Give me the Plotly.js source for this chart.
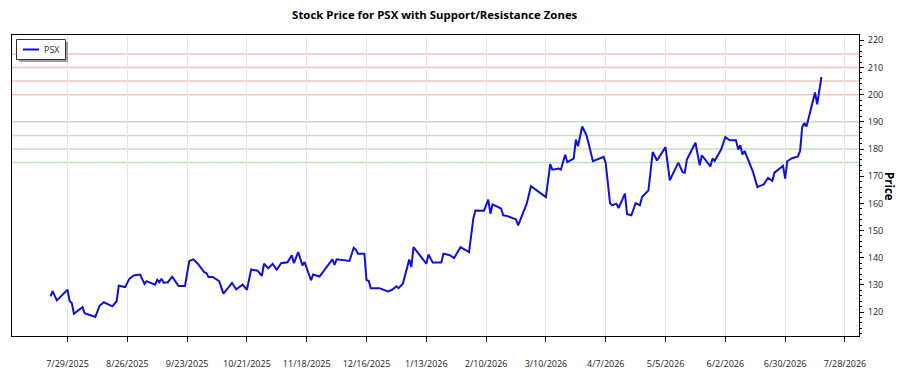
<!DOCTYPE html>
<html>
<head>
<meta charset="utf-8">
<script src="https://cdn.plot.ly/plotly-3.0.1.min.js"></script>
<style>html,body{margin:0;padding:0;background:#fff;}#chart{width:900px;height:375px;}</style>
</head>
<body>
<div id="chart"></div>
<script>
const dates = ['2025-07-21','2025-07-22','2025-07-24','2025-07-29','2025-07-30','2025-07-31','2025-08-01','2025-08-05','2025-08-06','2025-08-11','2025-08-13','2025-08-15','2025-08-19','2025-08-21','2025-08-22','2025-08-25','2025-08-27','2025-08-29','2025-09-01','2025-09-03','2025-09-04','2025-09-08','2025-09-09','2025-09-10','2025-09-11','2025-09-12','2025-09-14','2025-09-16','2025-09-19','2025-09-22','2025-09-24','2025-09-26','2025-09-28','2025-10-01','2025-10-02','2025-10-03','2025-10-05','2025-10-08','2025-10-10','2025-10-14','2025-10-16','2025-10-19','2025-10-21','2025-10-23','2025-10-26','2025-10-28','2025-10-29','2025-10-31','2025-11-02','2025-11-04','2025-11-06','2025-11-09','2025-11-11','2025-11-12','2025-11-14','2025-11-16','2025-11-17','2025-11-20','2025-11-21','2025-11-24','2025-11-30','2025-12-01','2025-12-02','2025-12-08','2025-12-10','2025-12-11','2025-12-12','2025-12-15','2025-12-16','2025-12-17','2025-12-18','2025-12-22','2025-12-26','2025-12-28','2025-12-30','2025-12-31','2026-01-02','2026-01-05','2026-01-06','2026-01-07','2026-01-13','2026-01-14','2026-01-16','2026-01-20','2026-01-21','2026-01-24','2026-01-26','2026-01-29','2026-02-02','2026-02-04','2026-02-05','2026-02-09','2026-02-11','2026-02-12','2026-02-13','2026-02-17','2026-02-18','2026-02-20','2026-02-24','2026-02-25','2026-03-01','2026-03-03','2026-03-10','2026-03-12','2026-03-13','2026-03-16','2026-03-17','2026-03-19','2026-03-20','2026-03-23','2026-03-24','2026-03-25','2026-03-27','2026-03-29','2026-03-30','2026-04-01','2026-04-06','2026-04-07','2026-04-09','2026-04-10','2026-04-12','2026-04-13','2026-04-16','2026-04-17','2026-04-19','2026-04-21','2026-04-23','2026-04-24','2026-04-27','2026-04-29','2026-05-01','2026-05-04','2026-05-05','2026-05-07','2026-05-09','2026-05-11','2026-05-13','2026-05-14','2026-05-15','2026-05-17','2026-05-19','2026-05-21','2026-05-22','2026-05-26','2026-05-27','2026-05-28','2026-05-31','2026-06-02','2026-06-04','2026-06-07','2026-06-08','2026-06-09','2026-06-10','2026-06-11','2026-06-14','2026-06-15','2026-06-17','2026-06-20','2026-06-22','2026-06-24','2026-06-25','2026-06-29','2026-06-30','2026-07-01','2026-07-03','2026-07-06','2026-07-07','2026-07-08','2026-07-09','2026-07-10','2026-07-14','2026-07-15','2026-07-17'];

const prices = [125.8,127.7,124.3,128.2,124.0,123.3,119.4,121.8,119.6,118.2,122.3,123.6,122.1,124.0,129.7,129.2,132.3,133.5,133.8,130.4,131.4,130.1,131.9,131.0,132.3,130.8,131.0,133.0,129.6,129.6,138.8,139.4,137.8,134.7,134.4,132.9,132.9,131.4,126.8,130.7,128.4,130.1,128.2,135.7,135.2,133.3,137.8,136.1,137.8,135.6,138.0,138.3,140.9,138.0,142.1,137.2,138.4,131.7,133.8,133.1,139.4,137.4,139.4,138.8,143.7,143.0,141.5,141.5,131.7,131.5,128.8,128.8,127.6,128.2,129.5,128.8,130.4,139.3,136.6,143.9,137.8,141.2,138.2,138.2,141.5,140.9,139.9,143.9,142.1,154.4,157.4,157.3,161.4,156.2,159.6,158.1,155.6,155.3,154.1,151.9,159.9,166.3,162.3,174.4,172.4,172.8,172.4,177.9,175.2,176.5,183.5,181.0,188.3,185.0,182.0,175.5,177.1,174.8,160.1,159.3,159.9,158.3,163.6,156.0,155.6,160.1,159.3,162.3,164.8,178.9,175.8,179.5,180.7,168.5,171.8,175.0,171.5,171.3,176.1,179.5,182.3,174.0,177.7,173.6,176.5,175.6,179.8,184.4,183.2,183.2,179.8,181.4,178.0,179.3,173.4,171.5,166.0,167.0,169.4,168.3,171.3,173.8,169.1,175.5,176.5,177.3,179.3,188.1,189.6,188.3,200.8,196.4,206.5];

const seriesName = 'PSX';
const resistanceLevels = [200, 205, 210, 215];
const supportLevels = [175, 180, 185, 190];

const tickDates = ['2025-07-29','2025-08-26','2025-09-23','2025-10-21','2025-11-18','2025-12-16','2026-01-13','2026-02-10','2026-03-10','2026-04-07','2026-05-05','2026-06-02','2026-06-30','2026-07-28'];
const tickLabels = ['7/29/2025','8/26/2025','9/23/2025','10/21/2025','11/18/2025','12/16/2025','1/13/2026','2/10/2026','3/10/2026','4/7/2026','5/5/2026','6/2/2026','6/30/2026','7/28/2026'];

const FONT = 'Open Sans, Noto Sans, sans-serif';
const LINE_COLOR = '#1010d8';
const W = 900, H = 375;
const M = {l: 12, r: 41, t: 35, b: 39};
const PW = W - M.l - M.r, PH = H - M.t - M.b;
const px = v => (v - M.l) / PW, py = v => 1 - (v - M.t) / PH;

const shapes = [];
resistanceLevels.forEach(v => shapes.push({type:'line', xref:'paper', x0:0, x1:1, yref:'y', y0:v, y1:v, layer:'below', line:{color:'rgba(240,150,150,0.6)', width:1.5}}));
supportLevels.forEach(v => shapes.push({type:'line', xref:'paper', x0:0, x1:1, yref:'y', y0:v, y1:v, layer:'below', line:{color:'rgba(150,205,150,0.6)', width:1.5}}));
// legend box (shadow, frame, sample line)
shapes.push({type:'rect', xref:'paper', yref:'paper', x0:px(19), x1:px(68), y0:py(62), y1:py(42), fillcolor:'#a0a0a0', line:{width:0}, layer:'above'});
shapes.push({type:'rect', xref:'paper', yref:'paper', x0:px(16.5), x1:px(65.5), y0:py(59.5), y1:py(39.5), fillcolor:'#ffffff', line:{color:'#333', width:1}, layer:'above'});
shapes.push({type:'line', xref:'paper', yref:'paper', x0:px(23), x1:px(39), y0:py(49.5), y1:py(49.5), line:{color:LINE_COLOR, width:2}, layer:'above'});

const trace = {x: dates, y: prices, type:'scatter', mode:'lines', name:seriesName, showlegend:false, line:{color:LINE_COLOR, width:2}};

const layout = {
  width: W, height: H,
  margin: M,
  paper_bgcolor:'#fff', plot_bgcolor:'#fff',
  font:{family:FONT, size:9, color:'#222'},
  title:{text:'Stock Price for PSX with Support/Resistance Zones', font:{family:FONT, size:11.4, color:'#000', weight:'bold'}, x:0.483, xanchor:'center', xref:'container', y:1-15/H, yanchor:'middle', yref:'container'},
  showlegend:false,
  xaxis:{type:'date', range:['2025-07-03','2026-08-03 14:00'], tickmode:'array', tickvals:tickDates, ticktext:tickLabels,
    ticks:'outside', ticklen:5, tickcolor:'#000', showline:true, linecolor:'#000', linewidth:1, mirror:true,
    showgrid:true, gridcolor:'#e4e4e4', gridwidth:1, zeroline:false, tickfont:{family:FONT, size:9, color:'#222'}, ticklabelstandoff:14, fixedrange:true},
  yaxis:{side:'right', range:[111.2, 221.95], tick0:0, dtick:10, ticks:'outside', ticklen:4, tickcolor:'#000',
    showline:true, linecolor:'#000', linewidth:1, mirror:true, showgrid:false, zeroline:false,
    minor:{dtick:2, tick0:0, ticks:'outside', ticklen:2, tickcolor:'#000', showgrid:false},
    tickfont:{family:FONT, size:9, color:'#222'}, ticklabelstandoff:2, fixedrange:true},
  shapes: shapes,
  annotations:[
    {text:'Price', xref:'paper', yref:'paper', x:px(890), y:py(186), xanchor:'center', yanchor:'middle', textangle:90, showarrow:false, font:{family:FONT, size:11.5, color:'#000', weight:'bold'}},
    {text:seriesName, xref:'paper', yref:'paper', x:px(42), y:py(49.5), xanchor:'left', yanchor:'middle', showarrow:false, font:{family:FONT, size:9, color:'#333'}}
  ]
};

Plotly.newPlot('chart', [trace], layout, {staticPlot:true, displayModeBar:false});
</script>
</body>
</html>
